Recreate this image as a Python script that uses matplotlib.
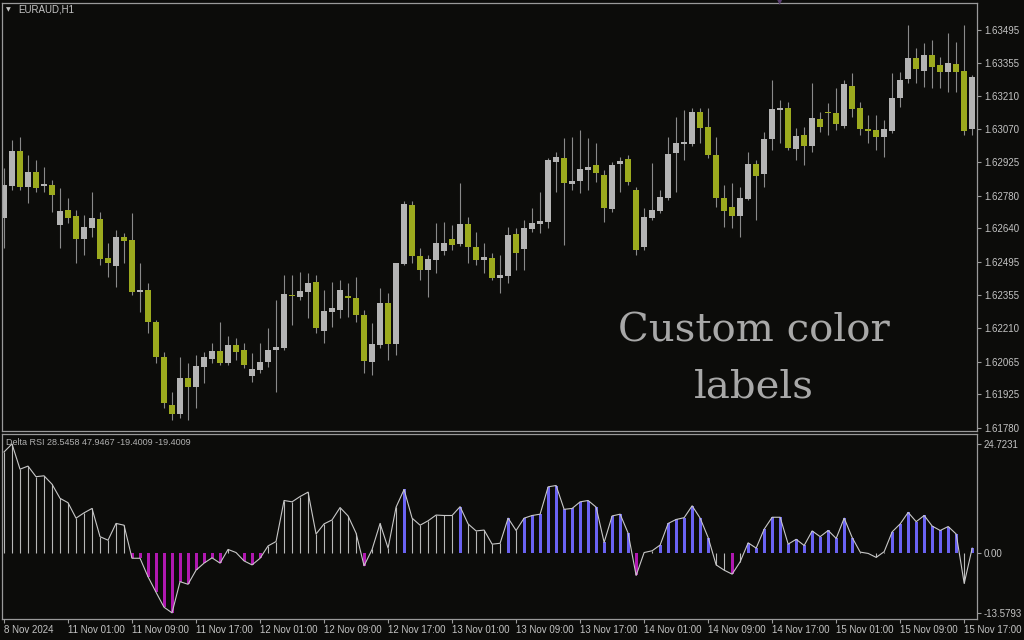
import numpy as np
import matplotlib
matplotlib.use("Agg")
import matplotlib.pyplot as plt

# EURAUD H1 candles, 8 Nov 17:00 .. 15 Nov 2024
opens = [1.62685, 1.62823, 1.62974, 1.62819, 1.62884, 1.62823, 1.62828, 1.62655, 1.62720, 1.62694,
         1.62595, 1.62642, 1.62681, 1.62513, 1.62479, 1.62604, 1.62591, 1.62367, 1.62375, 1.62237,
         1.62086, 1.61879, 1.61841, 1.61996, 1.61957, 1.62043, 1.62078, 1.62112, 1.62061, 1.62138,
         1.62117, 1.62004, 1.62030, 1.62065, 1.62117, 1.62125, 1.62354, 1.62345, 1.62367, 1.62410,
         1.62198, 1.62280, 1.62289, 1.62349, 1.62341, 1.62267, 1.62065, 1.62138, 1.62319, 1.62142,
         1.62487, 1.62741, 1.62522, 1.62461, 1.62504, 1.62543, 1.62595, 1.62573, 1.62660, 1.62560,
         1.62504, 1.62513, 1.62427, 1.62435, 1.62617, 1.62552, 1.62638, 1.62660, 1.62668, 1.62927,
         1.62944, 1.62832, 1.62845, 1.62892, 1.62914, 1.62871, 1.62724, 1.62918, 1.62940, 1.62806,
         1.62560, 1.62685, 1.62716, 1.62772, 1.62966, 1.63004, 1.63004, 1.63142, 1.63078, 1.62957,
         1.62772, 1.62733, 1.62694, 1.62767, 1.62918, 1.62875, 1.63026, 1.63151, 1.63160, 1.62983,
         1.63043, 1.62996, 1.63112, 1.63142, 1.63138, 1.63082, 1.63254, 1.63160, 1.63069, 1.63065,
         1.63035, 1.63060, 1.63203, 1.63285, 1.63375, 1.63319, 1.63388, 1.63345, 1.63315, 1.63349,
         1.63319, 1.63069]
highs = [1.62901, 1.63022, 1.63035, 1.62957, 1.62935, 1.62905, 1.62849, 1.62815, 1.62772, 1.62720,
         1.62698, 1.62798, 1.62711, 1.62578, 1.62634, 1.62621, 1.62707, 1.62492, 1.62405, 1.62246,
         1.62108, 1.61936, 1.62086, 1.62061, 1.62095, 1.62108, 1.62147, 1.62237, 1.62177, 1.62168,
         1.62147, 1.62104, 1.62147, 1.62211, 1.62332, 1.62440, 1.62440, 1.62453, 1.62448, 1.62440,
         1.62375, 1.62410, 1.62418, 1.62405, 1.62431, 1.62289, 1.62233, 1.62384, 1.62362, 1.62492,
         1.62759, 1.62759, 1.62556, 1.62526, 1.62664, 1.62668, 1.62655, 1.62836, 1.62690, 1.62625,
         1.62578, 1.62535, 1.62526, 1.62647, 1.62642, 1.62677, 1.62729, 1.62798, 1.62944, 1.62970,
         1.63030, 1.63035, 1.63065, 1.63030, 1.63009, 1.62892, 1.62927, 1.62948, 1.62957, 1.62819,
         1.62729, 1.62923, 1.62806, 1.63035, 1.63121, 1.63151, 1.63160, 1.63160, 1.63160, 1.63035,
         1.62828, 1.62836, 1.62819, 1.62970, 1.62935, 1.63056, 1.63280, 1.63194, 1.63185, 1.63073,
         1.63078, 1.63267, 1.63142, 1.63181, 1.63246, 1.63280, 1.63310, 1.63185, 1.63129, 1.63129,
         1.63108, 1.63310, 1.63315, 1.63517, 1.63418, 1.63440, 1.63453, 1.63379, 1.63483, 1.63444,
         1.63517, 1.63302]
lows = [1.62556, 1.62806, 1.62806, 1.62750, 1.62798, 1.62798, 1.62711, 1.62556, 1.62664, 1.62492,
        1.62526, 1.62604, 1.62483, 1.62431, 1.62388, 1.62492, 1.62354, 1.62280, 1.62190, 1.62061,
        1.61867, 1.61815, 1.61823, 1.61815, 1.61867, 1.61974, 1.62061, 1.62052, 1.62052, 1.62073,
        1.62039, 1.61979, 1.62017, 1.62043, 1.61936, 1.62117, 1.62224, 1.62332, 1.62254, 1.62190,
        1.62147, 1.62216, 1.62254, 1.62259, 1.62237, 1.62017, 1.62009, 1.62125, 1.62073, 1.62095,
        1.62483, 1.62492, 1.62418, 1.62345, 1.62448, 1.62526, 1.62548, 1.62565, 1.62492, 1.62483,
        1.62448, 1.62418, 1.62362, 1.62405, 1.62461, 1.62461, 1.62625, 1.62621, 1.62642, 1.62798,
        1.62569, 1.62806, 1.62793, 1.62806, 1.62841, 1.62668, 1.62711, 1.62798, 1.62828, 1.62526,
        1.62548, 1.62677, 1.62707, 1.62763, 1.62798, 1.62935, 1.62996, 1.63009, 1.62944, 1.62733,
        1.62647, 1.62642, 1.62604, 1.62763, 1.62677, 1.62819, 1.62979, 1.63009, 1.62979, 1.62935,
        1.62914, 1.62970, 1.63056, 1.63043, 1.63065, 1.63073, 1.63121, 1.63043, 1.63009, 1.62979,
        1.62948, 1.63052, 1.63164, 1.63267, 1.63267, 1.63250, 1.63246, 1.63246, 1.63229, 1.63229,
        1.63043, 1.63043]
closes = [1.62828, 1.62974, 1.62819, 1.62884, 1.62815, 1.62832, 1.62785, 1.62716, 1.62685, 1.62595,
          1.62647, 1.62685, 1.62509, 1.62492, 1.62604, 1.62586, 1.62367, 1.62375, 1.62237, 1.62086,
          1.61888, 1.61841, 1.61996, 1.61957, 1.62048, 1.62086, 1.62112, 1.62061, 1.62138, 1.62108,
          1.62052, 1.62035, 1.62065, 1.62117, 1.62129, 1.62358, 1.62349, 1.62371, 1.62405, 1.62211,
          1.62285, 1.62298, 1.62375, 1.62341, 1.62267, 1.62069, 1.62142, 1.62319, 1.62142, 1.62492,
          1.62746, 1.62522, 1.62461, 1.62509, 1.62578, 1.62578, 1.62569, 1.62660, 1.62560, 1.62504,
          1.62517, 1.62427, 1.62440, 1.62612, 1.62535, 1.62642, 1.62664, 1.62673, 1.62935, 1.62948,
          1.62836, 1.62845, 1.62897, 1.62905, 1.62879, 1.62729, 1.62914, 1.62931, 1.62841, 1.62548,
          1.62690, 1.62720, 1.62776, 1.62961, 1.63009, 1.63013, 1.63142, 1.63073, 1.62957, 1.62772,
          1.62716, 1.62694, 1.62772, 1.62918, 1.62866, 1.63026, 1.63155, 1.63160, 1.62987, 1.63039,
          1.62996, 1.63116, 1.63078, 1.63138, 1.63091, 1.63263, 1.63155, 1.63069, 1.63060, 1.63035,
          1.63069, 1.63203, 1.63280, 1.63375, 1.63328, 1.63388, 1.63336, 1.63315, 1.63353, 1.63315,
          1.63060, 1.63293]

# Delta RSI (line) and histogram colour kind: w = thin, b = blue, m = magenta
delta_rsi = [22.9, 24.72, 19.0, 19.7, 17.3, 17.5, 15.6, 12.4, 11.4, 7.9,
             9.1, 10.1, 3.7, 2.9, 6.7, 6.3, -1.2, -1.2, -5.4, -8.9,
             -12.3, -13.58, -6.5, -7.1, -3.9, -2.3, -1.1, -2.3, 0.8, 0.1,
             -1.8, -2.7, -1.2, 1.6, 2.6, 11.9, 11.6, 12.8, 13.8, 4.3,
             6.6, 7.5, 10.3, 8.4, 4.5, -2.9, 0.8, 6.7, 1.1, 10.4,
             14.4, 7.9, 6.3, 7.3, 8.6, 8.5, 8.5, 10.5, 6.6, 5.0,
             5.2, 2.0, 2.2, 7.9, 5.1, 7.9, 8.5, 8.8, 15.0, 15.3,
             9.9, 10.1, 11.6, 11.9, 10.4, 2.4, 8.4, 8.8, 4.5, -5.1,
             0.1, 0.5, 1.8, 6.7, 7.6, 8.0, 10.7, 7.9, 3.5, -2.7,
             -3.9, -4.8, -2.0, 2.3, 1.1, 5.4, 8.1, 8.1, 2.0, 3.1,
             1.7, 5.0, 3.7, 5.1, 3.3, 7.9, 3.5, 0.2, -0.1, -1.0,
             0.3, 4.8, 6.6, 9.2, 7.1, 8.5, 6.1, 5.1, 6.0, 4.3,
             -6.9, 1.1]
hist_kind = ("wwwwwwwwwwwwwwww" "mmmmmmmmmmmm" "ww" "mmm" "wwwwwwwwwwww" "m" "wwww" "b"
             "wwwwww" "b" "wwwww" "b" "w" "bbbbbbbbbbbbbb" "m" "ww" "bbbbbbb" "ww" "m" "w"
             "bbbbbbbbbbbbbb" "wwww" "bbbbbbbbb" "w" "b")

time_labels = ["8 Nov 2024", "11 Nov 01:00", "11 Nov 09:00", "11 Nov 17:00", "12 Nov 01:00",
               "12 Nov 09:00", "12 Nov 17:00", "13 Nov 01:00", "13 Nov 09:00", "13 Nov 17:00",
               "14 Nov 01:00", "14 Nov 09:00", "14 Nov 17:00", "15 Nov 01:00", "15 Nov 09:00",
               "15 Nov 17:00"]
price_ticks = [1.63495, 1.63355, 1.63210, 1.63070, 1.62925, 1.62780, 1.62640,
               1.62495, 1.62355, 1.62210, 1.62065, 1.61925, 1.61780]

bg = "#0c0c0a"
frame = "#9a9a9a"
txt = "#c4c4c4"
bull_col = "#b4b4b4"
bear_col = "#9caa1e"
blue = "#6a62f2"
magenta = "#b018b0"

plt.rcParams["font.family"] = ["Liberation Sans", "DejaVu Sans"]

o = np.array(opens); h = np.array(highs); l = np.array(lows); c = np.array(closes)
x = np.arange(len(o))

fig = plt.figure(figsize=(10.24, 6.4), dpi=100, facecolor=bg)
ax = fig.add_axes([2/1024, 1 - 431/640, 975/1024, 428/640], facecolor=bg)
ax2 = fig.add_axes([2/1024, 1 - 619/640, 975/1024, 185/640], facecolor=bg)

# candles
cols = np.where(c >= o, bull_col, bear_col)
ax.vlines(x, l, h, color="#8a8a8a", lw=0.8, zorder=1)
body = np.maximum(np.abs(c - o), 0.000025)
ax.bar(x, body, bottom=np.minimum(o, c), width=0.8, color=cols, lw=0, zorder=2)

ax.set_xlim(-0.25, 121.6)
ax.set_ylim(1.61767, 1.63612)
ax.set_xticks([])
ax.yaxis.tick_right()
ax.set_yticks(price_ticks)
ax.set_yticklabels([f"{p:.5f}" for p in price_ticks])

# indicator
d = np.array(delta_rsi)
kinds = np.array(list(hist_kind))
thin = kinds == "w"
ax2.vlines(x[thin], 0, d[thin], color="#b8b8b8", lw=0.8, zorder=1)
for k, colr in (("b", blue), ("m", magenta)):
    sel = kinds == k
    ax2.bar(x[sel], d[sel], width=0.38, color=colr, lw=0, zorder=2)
ax2.plot(x, d, color="#c8c8c8", lw=0.8, zorder=3)

ax2.set_xlim(-0.25, 121.6)
ax2.set_ylim(-14.97, 26.98)
ax2.yaxis.tick_right()
ax2.set_yticks([24.7231, 0.0, -13.5793])
ax2.set_yticklabels(["24.7231", "0.00", "-13.5793"])
ax2.set_xticks(np.arange(0, 121, 8))
ax2.set_xticklabels(time_labels)
for lbl in ax2.get_xticklabels():
    lbl.set_ha("left")

for a in (ax, ax2):
    for s in a.spines.values():
        s.set_color(frame)
        s.set_linewidth(0.9)
    a.tick_params(direction="out", length=3, width=0.8, color=frame,
                  labelcolor=txt, labelsize=7, pad=2)
ax2.tick_params(axis="x", pad=1)

fig.text(8/1024, 1 - 10/640, "\u25bc", color=txt, fontsize=4.5, ha="center", va="center",
         family="DejaVu Sans")
fig.text(18/1024, 1 - 10/640, "EURAUD,H1", color=txt, fontsize=7, va="center")
fig.text(780/1024, 1 - 2/640, "\u25bc", color="#5a3f70", fontsize=5, ha="center", va="center",
         family="DejaVu Sans")
ax2.text(0.004, 0.955, "Delta RSI 28.5458 47.9467 -19.4009 -19.4009", transform=ax2.transAxes,
         color="#b0b0b0", fontsize=6.5, va="center")

fig.text(754/1024, 1 - 341/640, "Custom color", color="#a8a8a8", fontsize=29,
         family="DejaVu Serif", ha="center", va="baseline")
fig.text(754/1024, 1 - 397/640, "labels", color="#a8a8a8", fontsize=29,
         family="DejaVu Serif", ha="center", va="baseline")

fig.savefig("out.png", dpi=100, facecolor=bg)
